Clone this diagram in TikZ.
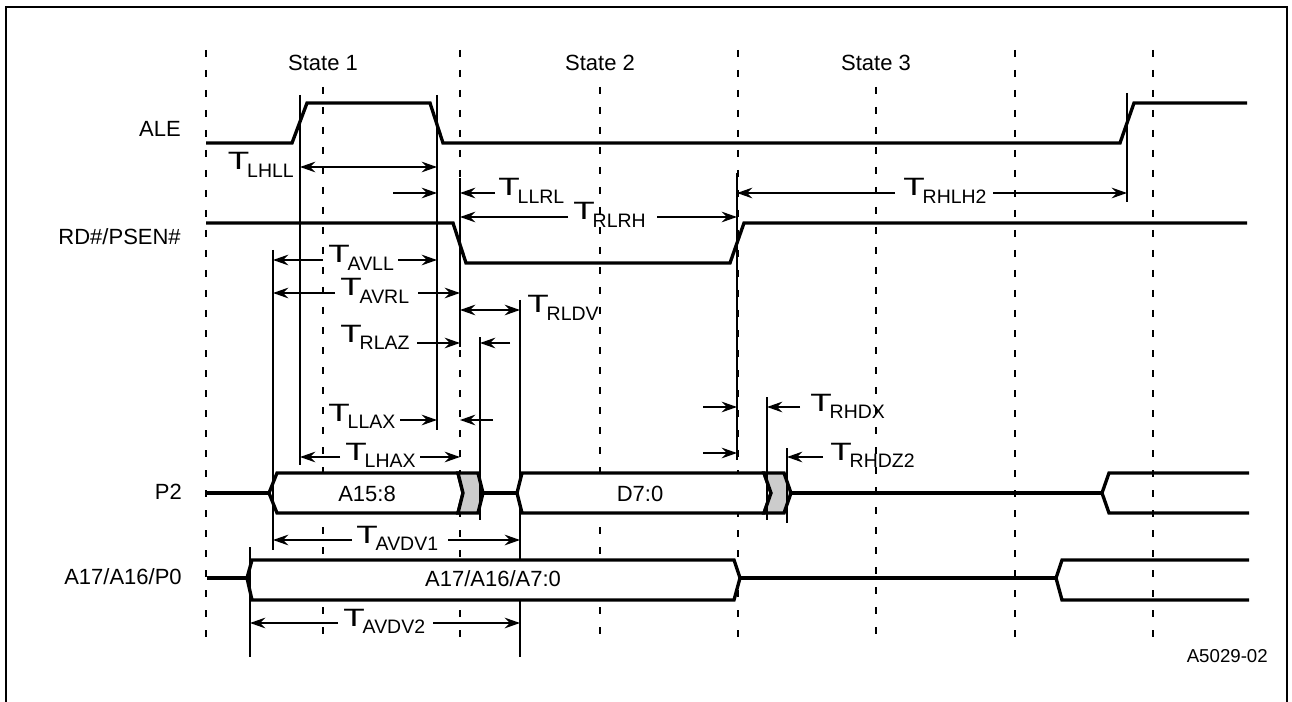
\documentclass[tikz,border=0pt]{standalone}
\usepackage{fontspec}
\usepackage{graphicx}
\setmainfont{Liberation Sans}
\usetikzlibrary{arrows.meta}
\newcommand{\Tl}[1]{{\fontsize{18.8}{18.8}\selectfont\scalebox{1.4}[1]{T}}\kern-1.5pt{\fontsize{14.6}{14.6}\selectfont\raisebox{-5.3pt}{#1}}}
\begin{document}
\begin{tikzpicture}[x=0.75pt,y=-0.75pt,
  sigl/.style={line width=2.5pt, line join=miter},
  thinl/.style={line width=1.2pt},
  gridl/.style={line width=1.4pt, dash pattern=on 5pt off 10pt},
  tip/.tip={Stealth[length=11.5pt,width=8pt,inset=4pt]},
  arr/.style={line width=1.2pt, -tip},
  darr/.style={line width=1.2pt, tip-tip},
  lab/.style={font=\fontsize{16.5}{16.5}\selectfont, inner sep=0pt},
  tlab/.style={inner sep=0pt, anchor=base west}]
\useasboundingbox (0,0) rectangle (1292,702);
% frame
\draw[line width=1.5pt] (6,702) -- (6,7) -- (1287,7) -- (1287,702);
% grid
\foreach \x in {206,460,738,1015,1153} \draw[gridl] (\x,50) -- (\x,640);
\foreach \x in {323,600,876} \draw[gridl] (\x,87) -- (\x,640);
% state labels
\node[lab, anchor=base] (s1) at (323,71) {State 1};
\node[lab, anchor=base] (s2) at (600,71) {State 2};
\node[lab, anchor=base] (s3) at (876,71) {State 3};
% signal names
\node[lab, anchor=base east] (nale) at (181,137) {ALE};
\node[lab, anchor=base east] (nrd) at (181,245) {RD\#/PSEN\#};
\node[lab, anchor=base east] (np2) at (182,499) {P2};
\node[lab, anchor=base east] (np0) at (182,584) {A17/A16/P0};
% reference lines
\draw[thinl] (300,95) -- (300,465);
\draw[thinl] (437,95) -- (437,430);
\draw[thinl] (460,178) -- (460,347);
\draw[thinl] (273,250) -- (273,550);
\draw[thinl] (480,337) -- (480,520);
\draw[thinl] (520,300) -- (520,657);
\draw[thinl] (250,547) -- (250,657);
\draw[thinl] (737,173) -- (737,460);
\draw[thinl] (767,397) -- (767,520);
\draw[thinl] (787,448) -- (787,523);
\draw[thinl] (1127,93) -- (1127,202);
% ALE
\draw[sigl] (206,143) -- (292,143) -- (307,103) -- (430,103) -- (443,143) -- (1120,143) -- (1134,103) -- (1247,103);
% RD
\draw[sigl] (206,223) -- (453,223) -- (466,263) -- (730,263) -- (744,223) -- (1247,223);
% P2
\draw[sigl] (206,493) -- (269,493);
\filldraw[sigl, fill=white] (269,493) -- (277,473) -- (458,473) -- (463,493) -- (458,513) -- (277,513) -- cycle;
\filldraw[sigl, fill=gray!40] (458,473) -- (478,473) -- (483,493) -- (478,513) -- (458,513) -- (463,493) -- cycle;
\draw[sigl] (483,493) -- (517,493);
\filldraw[sigl, fill=white] (517,493) -- (522,473) -- (764,473) -- (771,493) -- (764,513) -- (522,513) -- cycle;
\filldraw[sigl, fill=gray!40] (764,473) -- (784,473) -- (791,493) -- (784,513) -- (764,513) -- (771,493) -- cycle;
\draw[sigl] (791,493) -- (1102,493);
\draw[sigl] (1249,473) -- (1109,473) -- (1102,493) -- (1109,513) -- (1249,513);
\node[lab, anchor=base] (ba) at (367,501) {A15:8};
\node[lab, anchor=base] (bd) at (640,501) {D7:0};
% A17/A16/P0
\draw[sigl] (207,578) -- (247,578);
\filldraw[sigl, fill=white] (247,578) -- (252,560) -- (734,560) -- (740,578) -- (734,600) -- (252,600) -- cycle;
\draw[sigl] (740,578) -- (1056,578);
\draw[sigl] (1249,560) -- (1062,560) -- (1056,578) -- (1062,600) -- (1249,600);
\node[lab, anchor=base] (bp0) at (493,586) {A17/A16/A7:0};
% redraw short lines crossing the bus edges
\draw[thinl] (273,470) -- (273,516);
\draw[thinl] (250,557) -- (250,603);
\draw[thinl] (480,470) -- (480,516);
\draw[thinl] (767,470) -- (767,516);
\draw[thinl] (787,470) -- (787,516);
% timing arrows
\draw[darr] (300,167) -- (437,167);
\node[tlab, anchor=base east] (tlhll) at (294,170) {\Tl{LHLL}};
\draw[arr] (393,193) -- (437,193);
\draw[arr] (495,193) -- (460,193);
\node[tlab] (tllrl) at (498,196) {\Tl{LLRL}};
\draw[arr] (568,217) -- (460,217);
\draw[arr] (657,217) -- (737,217);
\node[tlab] (trlrh) at (573,220) {\Tl{RLRH}};
\draw[arr] (895,193) -- (737,193);
\draw[arr] (993,193) -- (1127,193);
\node[tlab] (trhlh) at (903,196) {\Tl{RHLH2}};
\draw[arr] (323,260) -- (273,260);
\draw[arr] (398,260) -- (437,260);
\node[tlab] (tavll) at (328,263) {\Tl{AVLL}};
\draw[arr] (335,293) -- (273,293);
\draw[arr] (418,293) -- (460,293);
\node[tlab] (tavrl) at (340,296) {\Tl{AVRL}};
\draw[darr] (460,310) -- (520,310);
\node[tlab] (trldv) at (527,313) {\Tl{RLDV}};
\draw[arr] (417,343) -- (460,343);
\draw[arr] (510,343) -- (480,343);
\node[tlab] (trlaz) at (340,342) {\Tl{RLAZ}};
\draw[arr] (400,420) -- (437,420);
\draw[arr] (493,420) -- (460,420);
\node[tlab] (tllax) at (328,421) {\Tl{LLAX}};
\draw[arr] (340,457) -- (300,457);
\draw[arr] (420,457) -- (460,457);
\node[tlab] (tlhax) at (345,460) {\Tl{LHAX}};
\draw[arr] (352,540) -- (273,540);
\draw[arr] (448,540) -- (520,540);
\node[tlab] (tavdv1) at (356,543) {\Tl{AVDV1}};
\draw[arr] (338,623) -- (250,623);
\draw[arr] (433,623) -- (520,623);
\node[tlab] (tavdv2) at (343,626) {\Tl{AVDV2}};
\draw[arr] (703,407) -- (737,407);
\draw[arr] (800,407) -- (767,407);
\node[tlab] (trhdx) at (810,411) {\Tl{RHDX}};
\draw[arr] (703,453) -- (737,453);
\draw[arr] (823,457) -- (787,457);
\node[tlab] (trhdz) at (830,460) {\Tl{RHDZ2}};
% figure id
\node[inner sep=0pt, anchor=base east, font=\fontsize{14}{14}\selectfont] (fid) at (1268,662) {A5029-02};
\end{tikzpicture}
\end{document}
